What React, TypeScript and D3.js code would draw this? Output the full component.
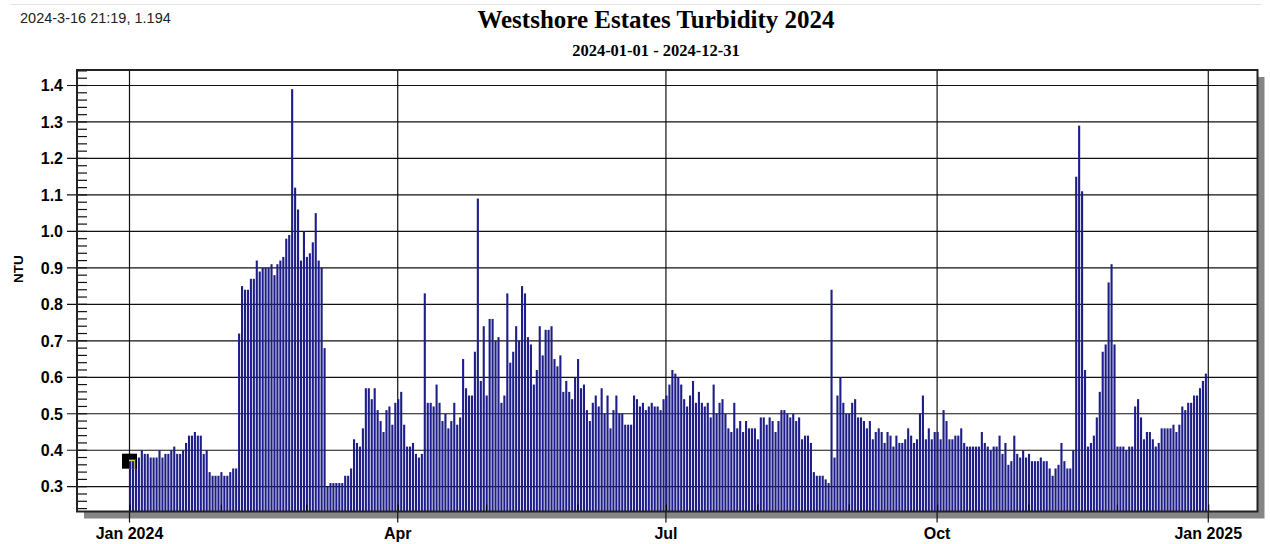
import * as d3 from 'd3';

// daily turbidity readings (NTU), 2024, one array per month
const janValues = [0.37, 0.37, 0.38, 0.38, 0.40, 0.39, 0.39, 0.38, 0.38, 0.38, 0.40, 0.38, 0.39, 0.39, 0.40, 0.41, 0.39, 0.39, 0.40, 0.42, 0.44, 0.44, 0.45, 0.44, 0.44, 0.39, 0.40, 0.34, 0.33, 0.33, 0.33];
const febValues = [0.34, 0.33, 0.33, 0.34, 0.35, 0.35, 0.72, 0.85, 0.84, 0.84, 0.87, 0.87, 0.92, 0.89, 0.90, 0.90, 0.90, 0.91, 0.88, 0.91, 0.92, 0.93, 0.98, 0.99, 1.39, 1.12, 1.06, 0.92, 1.00];
const marValues = [0.93, 0.94, 0.97, 1.05, 0.92, 0.90, 0.68, 0.30, 0.31, 0.31, 0.31, 0.31, 0.31, 0.33, 0.33, 0.35, 0.43, 0.42, 0.41, 0.46, 0.57, 0.57, 0.54, 0.57, 0.51, 0.48, 0.45, 0.51, 0.52, 0.47, 0.53];
const aprValues = [0.54, 0.56, 0.47, 0.41, 0.41, 0.42, 0.39, 0.38, 0.39, 0.83, 0.53, 0.53, 0.52, 0.58, 0.53, 0.48, 0.50, 0.46, 0.48, 0.53, 0.47, 0.49, 0.65, 0.57, 0.55, 0.55, 0.67, 1.09, 0.59, 0.74];
const mayValues = [0.55, 0.76, 0.76, 0.70, 0.71, 0.53, 0.55, 0.83, 0.64, 0.67, 0.74, 0.70, 0.85, 0.83, 0.71, 0.69, 0.58, 0.62, 0.74, 0.66, 0.73, 0.73, 0.74, 0.65, 0.63, 0.66, 0.56, 0.59, 0.56, 0.54, 0.60];
const junValues = [0.65, 0.57, 0.58, 0.51, 0.48, 0.53, 0.55, 0.52, 0.57, 0.50, 0.55, 0.46, 0.51, 0.55, 0.50, 0.50, 0.47, 0.47, 0.47, 0.55, 0.54, 0.52, 0.53, 0.51, 0.52, 0.53, 0.52, 0.52, 0.51, 0.54];
const julValues = [0.55, 0.58, 0.62, 0.61, 0.60, 0.58, 0.54, 0.52, 0.55, 0.59, 0.53, 0.56, 0.53, 0.52, 0.53, 0.49, 0.58, 0.50, 0.53, 0.54, 0.50, 0.46, 0.45, 0.53, 0.46, 0.48, 0.45, 0.48, 0.46, 0.46, 0.46];
const augValues = [0.43, 0.49, 0.49, 0.47, 0.49, 0.48, 0.45, 0.48, 0.51, 0.51, 0.50, 0.49, 0.50, 0.48, 0.49, 0.43, 0.44, 0.44, 0.42, 0.34, 0.33, 0.33, 0.33, 0.32, 0.31, 0.84, 0.38, 0.55, 0.60, 0.53, 0.50];
const sepValues = [0.50, 0.53, 0.54, 0.49, 0.49, 0.48, 0.46, 0.48, 0.43, 0.45, 0.46, 0.45, 0.42, 0.45, 0.44, 0.41, 0.44, 0.42, 0.42, 0.43, 0.46, 0.44, 0.42, 0.43, 0.50, 0.55, 0.43, 0.46, 0.43, 0.45];
const octValues = [0.45, 0.43, 0.51, 0.48, 0.43, 0.43, 0.44, 0.44, 0.46, 0.42, 0.41, 0.41, 0.41, 0.41, 0.41, 0.45, 0.42, 0.41, 0.40, 0.41, 0.41, 0.44, 0.39, 0.42, 0.36, 0.37, 0.44, 0.39, 0.38, 0.40, 0.38];
const novValues = [0.39, 0.37, 0.37, 0.37, 0.38, 0.37, 0.37, 0.35, 0.33, 0.35, 0.36, 0.42, 0.37, 0.35, 0.35, 0.40, 1.15, 1.29, 1.11, 0.62, 0.41, 0.42, 0.44, 0.49, 0.56, 0.67, 0.69, 0.86, 0.91, 0.69];
const decValues = [0.41, 0.41, 0.41, 0.40, 0.41, 0.41, 0.52, 0.54, 0.49, 0.43, 0.45, 0.45, 0.43, 0.41, 0.42, 0.46, 0.46, 0.46, 0.46, 0.47, 0.45, 0.47, 0.52, 0.51, 0.53, 0.53, 0.55, 0.55, 0.57, 0.59, 0.61];

const monthValues = [janValues, febValues, marValues, aprValues, mayValues, junValues, julValues, augValues, sepValues, octValues, novValues, decValues];

const yTickValues = [0.3, 0.4, 0.5, 0.6, 0.7, 0.8, 0.9, 1.0, 1.1, 1.2, 1.3, 1.4];
const xTickDates = [Date.UTC(2024, 0, 1), Date.UTC(2024, 3, 1), Date.UTC(2024, 6, 1), Date.UTC(2024, 9, 1), Date.UTC(2025, 0, 1)];
const xTickLabels = ['Jan 2024', 'Apr', 'Jul', 'Oct', 'Jan 2025'];

const title = 'Westshore Estates Turbidity 2024';
const subtitle = '2024-01-01 - 2024-12-31';
const cursorText = '2024-3-16 21:19, 1.194';
const yAxisTitle = 'NTU';

const DAY = 86400000;
const start = Date.UTC(2024, 0, 1);

const series = monthValues.flatMap((vals, m) =>
  vals.map((v, i) => ({ date: new Date(Date.UTC(2024, m, i + 1)), value: v }))
);

export default function App() {
  const width = 1270;
  const height = 544;
  const plot = { left: 77, top: 70, right: 1257.5, bottom: 511.5 };
  const sans = '"Liberation Sans", Arial, sans-serif';
  const serif = '"Liberation Serif", "Times New Roman", serif';

  const x = d3
    .scaleUtc()
    .domain([new Date(start - 17.81 * DAY), new Date(start + 382.7 * DAY)])
    .range([plot.left, plot.right]);
  const y = d3.scaleLinear().domain([0.232, 1.4425]).range([plot.bottom, plot.top]);

  const minorY = d3.range(12, 73).map(i => i * 0.02);
  const months = d3.utcMonth.range(new Date(start), new Date(Date.UTC(2025, 0, 2)));
  const fmt = d3.format('.1f');

  const first = series[0];
  const mx = x(first.date);
  const my = y(first.value);

  const bars = (key: string) =>
    series.map((d, i) => (
      <rect
        key={key + i}
        x={x(d.date) - 0.5}
        y={y(d.value)}
        width={2.1}
        height={plot.bottom - y(d.value)}
        fill="#1e1e88"
      />
    ));

  return (
    <svg
      width={width}
      height={height}
      style={{ position: 'absolute', left: 0, top: 0, background: '#fff' }}
    >
      <defs>
        <clipPath id="cursorClip">
          <rect x={mx - 0.5} y={my - 1.5} width={7} height={9} />
        </clipPath>
      </defs>
      <line x1={10} x2={1262} y1={4.5} y2={4.5} stroke="#e4e4e4" />
      <text x={20} y={23} fontFamily={sans} fontSize={14.5} fill="#222">
        {cursorText}
      </text>
      <text x={656} y={28} textAnchor="middle" fontFamily={serif} fontWeight="bold" fontSize={25}>
        {title}
      </text>
      <text x={656} y={56} textAnchor="middle" fontFamily={serif} fontWeight="bold" fontSize={16.5}>
        {subtitle}
      </text>

      {/* drop shadow + frame background */}
      <rect x={plot.left + 7} y={plot.top + 7} width={plot.right - plot.left} height={plot.bottom - plot.top} fill="#858585" />
      <rect x={plot.left} y={plot.top} width={plot.right - plot.left} height={plot.bottom - plot.top} fill="#fff" />

      {yTickValues.map(v => (
        <line key={'gy' + v} x1={plot.left - 10} x2={plot.right} y1={y(v)} y2={y(v)} stroke="#111" strokeWidth={1.2} />
      ))}
      {xTickDates.map(t => (
        <line key={'gx' + t} x1={x(new Date(t))} x2={x(new Date(t))} y1={plot.top} y2={plot.bottom + 11} stroke="#111" strokeWidth={1.2} />
      ))}

      {bars('b')}

      {months.map(m => (
        <line key={'mt' + m.getTime()} x1={x(m) + 0.5} x2={x(m) + 0.5} y1={plot.bottom} y2={plot.bottom - 7} stroke="#000" strokeWidth={1} />
      ))}

      {/* cursor marker at first reading */}
      <rect x={mx - 7.5} y={my - 7.5} width={15} height={15} fill="#000" />
      <rect x={mx - 0.5} y={my - 1.5} width={7} height={9} fill="#d8d26a" />
      <g clipPath="url(#cursorClip)">{bars('c')}</g>

      {minorY.map(v => (
        <line key={'my' + v} x1={plot.left} x2={plot.left + 10} y1={y(v)} y2={y(v)} stroke="#111" strokeWidth={1.2} />
      ))}

      <rect x={plot.left} y={plot.top} width={plot.right - plot.left} height={plot.bottom - plot.top} fill="none" stroke="#222" strokeWidth={2} />

      {yTickValues.map(v => (
        <text key={'ly' + v} x={63} y={y(v)} dy="0.36em" textAnchor="end" fontFamily={sans} fontWeight="bold" fontSize={16}>
          {fmt(v)}
        </text>
      ))}
      {xTickDates.map((t, i) => (
        <text key={'lx' + t} x={x(new Date(t))} y={539} textAnchor="middle" fontFamily={sans} fontWeight="bold" fontSize={16}>
          {xTickLabels[i]}
        </text>
      ))}
      <text
        transform={`translate(23,${269}) rotate(-90)`}
        textAnchor="middle"
        fontFamily={sans}
        fontWeight="bold"
        fontSize={13.5}
      >
        {yAxisTitle}
      </text>
    </svg>
  );
}
